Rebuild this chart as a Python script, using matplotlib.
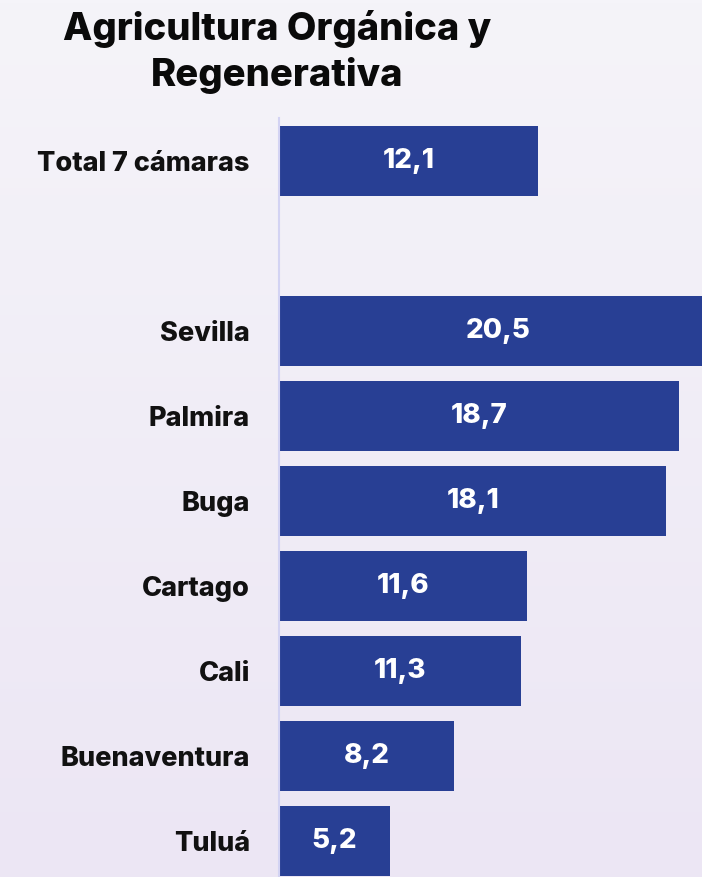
import numpy as np
import matplotlib.pyplot as plt
from matplotlib.colors import LinearSegmentedColormap

# datos por cámara
categorias = ["Total 7 cámaras", "", "Sevilla", "Palmira", "Buga", "Cartago",
              "Cali", "Buenaventura", "Tuluá"]
valores = [12.1, None, 20.5, 18.7, 18.1, 11.6, 11.3, 8.2, 5.2]
etiquetas = ["12,1", "", "20,5", "18,7", "18,1", "11,6", "11,3", "8,2", "5,2"]
titulo = "Agricultura Orgánica y\nRegenerativa"

azul = "#283f94"
plt.rcParams['font.family'] = ['Inter', 'DejaVu Sans']

fig = plt.figure(figsize=(7.02, 8.77), dpi=100)

# fondo degradado
bg = fig.add_axes([0, 0, 1, 1], zorder=-10)
grad = np.linspace(0, 1, 256).reshape(-1, 1)
cmap = LinearSegmentedColormap.from_list("fondo", ["#f5f4f9", "#ece6f4"])
bg.imshow(grad, aspect='auto', cmap=cmap, extent=[0, 1, 0, 1], origin='upper')
bg.axis('off')

ax = fig.add_axes([279 / 702, 0, 1 - 279 / 702, (877 - 118) / 877])
ax.set_facecolor('none')

pos = np.arange(len(categorias))
for i, (v, lab) in enumerate(zip(valores, etiquetas)):
    if v is None:
        continue
    ax.barh(pos[i], v, height=0.82, color=azul, clip_on=True)
    ax.text(v / 2, pos[i], lab, ha='center', va='center', color='white',
            fontsize=20, fontweight='heavy')

ax.set_xlim(0, 19.77)
ax.set_ylim(8.424, -0.506)
ax.set_yticks([p for p, v in zip(pos, valores) if v is not None])
ax.set_yticklabels([c for c, v in zip(categorias, valores) if v is not None],
                   fontsize=19.5, fontweight='heavy', color='#111111')
ax.tick_params(axis='y', length=0, pad=21)
ax.set_xticks([])
for s in ['top', 'right', 'bottom']:
    ax.spines[s].set_visible(False)
ax.spines['left'].set_color('#d3d3f3')
ax.spines['left'].set_linewidth(1.5)

fig.text(277 / 702, 1 - 52 / 877, titulo, ha='center', va='center',
         fontsize=27.5, fontweight='heavy', color='#0a0a0a', linespacing=1.3)

fig.savefig("out.png", dpi=100)
